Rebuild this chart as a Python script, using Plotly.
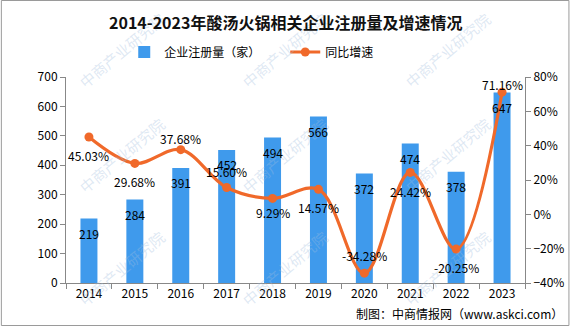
import plotly.graph_objects as go

years = ["2014", "2015", "2016", "2017", "2018", "2019", "2020", "2021", "2022", "2023"]
registrations = [219, 284, 391, 452, 494, 566, 372, 474, 378, 647]
growth = [45.03, 29.68, 37.68, 15.60, 9.29, 14.57, -34.28, 24.42, -20.25, 71.16]

# label vertical offsets (px) for growth labels: positive = above the point
growth_label_shift = [-18, -18, 11, 16, -14, -18, 18, -19, -18, 8]

W, H = 576, 327
ML, MR, MT, MB = 66, 45, 77, 44
PW, PH = W - ML - MR, H - MT - MB

def px(x):
    return (x - ML) / PW

def py(y):
    return (H - MB - y) / PH

FONT = "SimSun, 'Noto Sans CJK SC', sans-serif"
BAR_COLOR = "#3F9AEC"
LINE_COLOR = "#F0692A"

fig = go.Figure()
fig.add_trace(go.Bar(
    x=years, y=registrations, name="企业注册量（家）",
    marker=dict(color=BAR_COLOR, line=dict(width=0)),
    yaxis="y",
))
fig.add_trace(go.Scatter(
    x=years, y=growth, name="同比增速", yaxis="y2",
    mode="lines+markers",
    line=dict(color=LINE_COLOR, width=3.2, shape="spline", smoothing=1.0),
    marker=dict(color=LINE_COLOR, size=9),
))

annotations = []
# watermarks (diagonal, faint)
for lx in [70, 235, 400]:
    for ly in [95, 200, 313]:
        annotations.append(dict(
            x=px(lx + 52), y=py(ly - 45), xref="paper", yref="paper",
            text="中商产业研究院", showarrow=False, textangle=-40,
            xanchor="center", yanchor="middle",
            font=dict(family="Noto Sans CJK SC", size=15, color="rgba(160,190,222,0.35)"),
        ))

for i, v in enumerate(registrations):
    annotations.append(dict(
        x=i, y=v, xref="x", yref="y", text=str(v), showarrow=False,
        yshift=-15, font=dict(family=FONT, size=12, color="#000000"),
    ))
for i, (g, s) in enumerate(zip(growth, growth_label_shift)):
    annotations.append(dict(
        x=i, y=g, xref="x", yref="y2", text=f"{g:.2f}%", showarrow=False,
        yshift=s, font=dict(family=FONT, size=12, color="#000000"),
    ))

# title and source
annotations.append(dict(
    x=px(288), y=py(22), xref="paper", yref="paper",
    text="<b>2014-2023年酸汤火锅相关企业注册量及增速情况</b>", showarrow=False,
    xanchor="center", yanchor="middle",
    font=dict(family="Noto Sans CJK SC", size=16, color="#111111"),
))
annotations.append(dict(
    x=px(572), y=py(313), xref="paper", yref="paper",
    text="制图：中商情报网（www.askci.com）", showarrow=False,
    xanchor="right", yanchor="middle",
    font=dict(family=FONT, size=12, color="#000000"),
))

fig.update_layout(
    width=W, height=H,
    margin=dict(l=ML, r=MR, t=MT, b=MB, pad=0),
    paper_bgcolor="white", plot_bgcolor="white",
    bargap=0.63,
    showlegend=True,
    legend=dict(
        orientation="h", x=px(125), y=py(52), xanchor="left", yanchor="middle",
        font=dict(family=FONT, size=12, color="#000000"),
        bgcolor="rgba(0,0,0,0)", entrywidth=116, entrywidthmode="pixels",
        traceorder="normal",
    ),
    xaxis=dict(
        type="category", range=[-0.5, len(years) - 0.5],
        showline=True, linecolor="#888888", linewidth=1,
        ticks="outside", tickson="boundaries", ticklen=5, tickcolor="#888888",
        tickfont=dict(family=FONT, size=12, color="#000000"), tickangle=0,
        showgrid=False, zeroline=False,
    ),
    yaxis=dict(
        range=[0, 700], dtick=100, showline=True, linecolor="#888888", linewidth=1,
        ticks="outside", ticklen=5, tickcolor="#888888",
        tickfont=dict(family=FONT, size=12, color="#000000"),
        showgrid=False, zeroline=False,
    ),
    yaxis2=dict(
        range=[-40, 80], dtick=20, overlaying="y", side="right",
        showline=True, linecolor="#888888", linewidth=1,
        ticks="outside", ticklen=5, tickcolor="#888888", ticksuffix="%",
        tickfont=dict(family=FONT, size=12, color="#000000"),
        showgrid=False, zeroline=False,
    ),
    annotations=annotations,
    shapes=[dict(
        type="rect", xref="paper", yref="paper",
        x0=px(0.5), x1=px(575.5), y0=py(0.5), y1=py(325.5),
        line=dict(color="#9a9a9a", width=1), fillcolor="rgba(0,0,0,0)", layer="below",
    )],
)

fig.write_html("out.html")
